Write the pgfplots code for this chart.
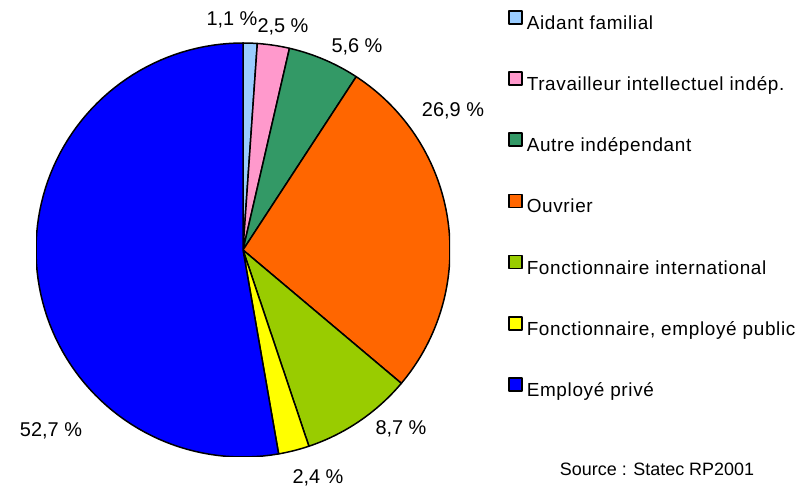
\documentclass[border=0pt]{standalone}
\usepackage{pgfplots}
\pgfplotsset{compat=1.18}
\usepackage{fontspec}
\setmainfont{Liberation Sans}
\newfontfamily\legfont[LetterSpace=3.5]{Liberation Sans}
\definecolor{cAid}{HTML}{99CCFF}
\definecolor{cTra}{HTML}{FF99CC}
\definecolor{cAut}{HTML}{339966}
\definecolor{cOuv}{HTML}{FF6600}
\definecolor{cFI}{HTML}{99CC00}
\definecolor{cFP}{HTML}{FFFF00}
\definecolor{cEP}{HTML}{0000FF}
% slice: start cumulative %, end cumulative %, colour, legend text
\newcommand\slice[4]{%
  \addplot[fill=#3, draw=black, line width=1.5bp, line join=round,
    domain={90-(#2)*360/99.9}:{90-(#1)*360/99.9}, samples=90, variable=\t,
    legend image code/.code={\draw[fill=#3, draw=black, line width=1.6bp] (0bp,0.5bp) rectangle (13bp,13.5bp);}]
    ({cos(\t)},{sin(\t)}) -- (axis cs:0,0) -- cycle;
  \addlegendentry{#4}
}
\begin{document}
\begin{tikzpicture}[x=1bp,y=1bp]
\useasboundingbox (0bp,0bp) rectangle (805bp,488bp);
\begin{axis}[
  at={(243bp,238bp)}, anchor=center,
  width=414bp, height=414bp, scale only axis,
  xmin=-1, xmax=1, ymin=-1, ymax=1,
  hide axis,
  legend cell align=left,
  legend style={draw=none, fill=none, at={(rel axis cs:1.140,1.080)}, anchor=north west,
    font=\legfont\fontsize{19}{23}\selectfont,
    row sep=36.9bp, inner sep=0pt,
    nodes={inner sep=1bp, text height=14bp, text depth=4bp},
    /tikz/every odd column/.append style={column sep=3bp}},
]
\slice{0}{1.1}{cAid}{Aidant familial}
\slice{1.1}{3.6}{cTra}{Travailleur intellectuel indép.}
\slice{3.6}{9.2}{cAut}{Autre indépendant}
\slice{9.2}{36.1}{cOuv}{Ouvrier}
\slice{36.1}{44.8}{cFI}{Fonctionnaire international}
\slice{44.8}{47.2}{cFP}{Fonctionnaire, employé public}
\slice{47.2}{99.9}{cEP}{Employé privé}
\end{axis}
\begin{scope}[every node/.style={font=\fontsize{20}{24}\selectfont, inner sep=0pt}]
\node at (232bp,468bp) {1,1 \%};
\node at (283bp,461bp) {2,5 \%};
\node at (357bp,441bp) {5,6 \%};
\node at (453bp,377.5bp) {26,9 \%};
\node at (401bp,59bp) {8,7 \%};
\node at (318bp,10bp) {2,4 \%};
\node at (51bp,57bp) {52,7 \%};
\node[font=\fontsize{18}{22}\selectfont] at (657bp,19bp) {Source : Statec RP2001};
\end{scope}
\end{tikzpicture}
\end{document}
